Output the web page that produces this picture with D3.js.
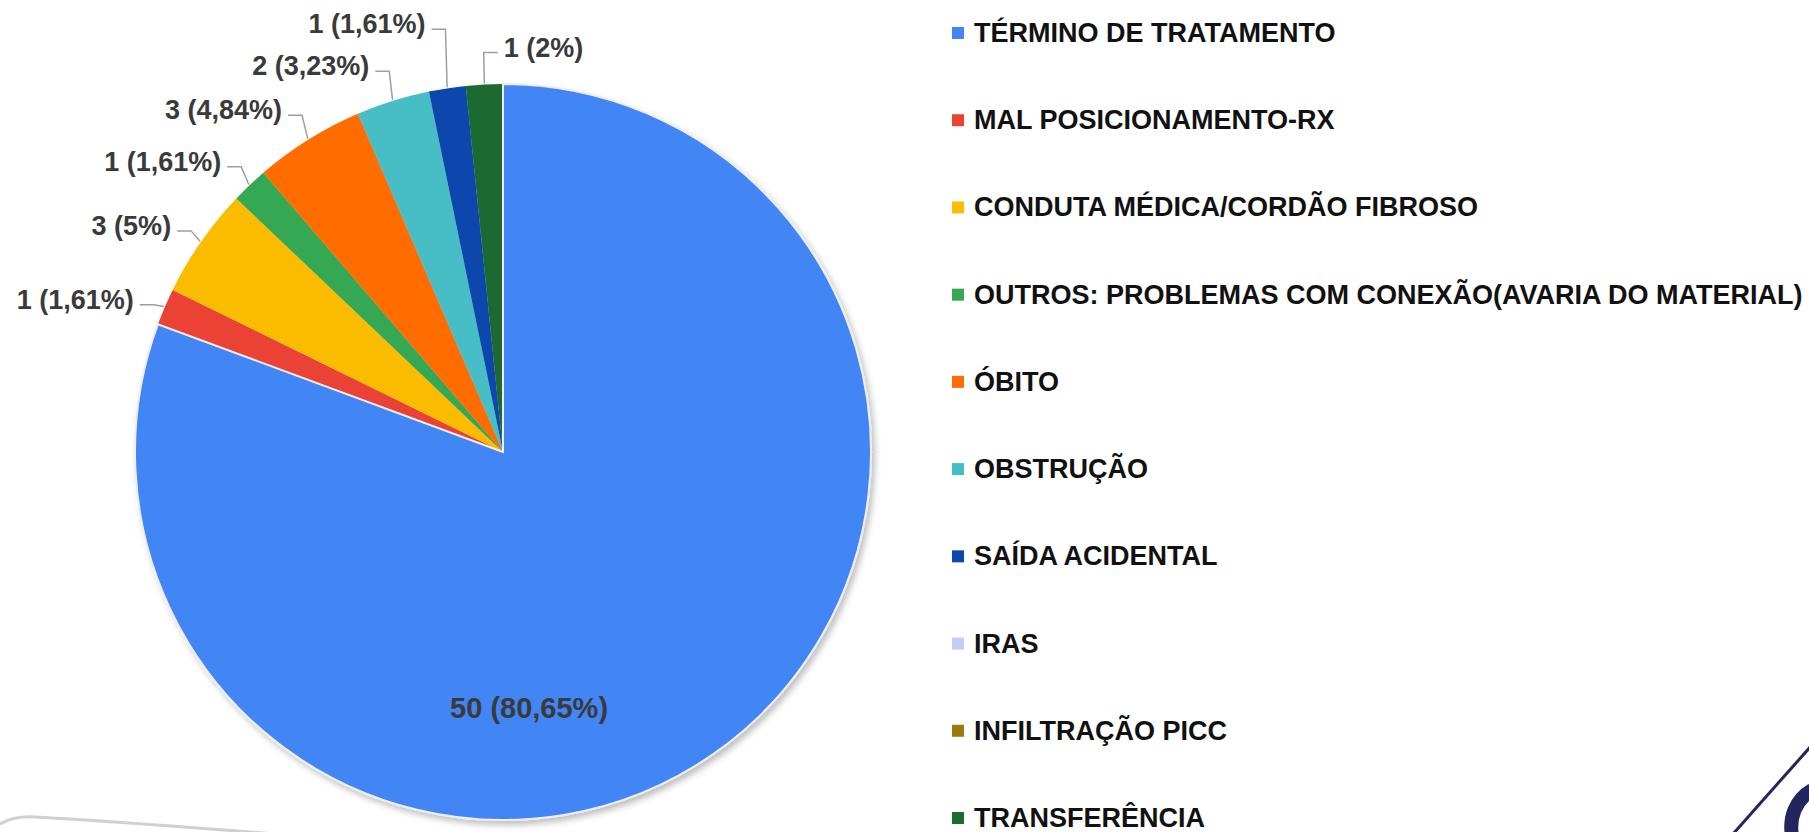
<!DOCTYPE html>
<html>
<head>
<meta charset="utf-8">
<script src="https://cdn.jsdelivr.net/npm/d3@7"></script>
<style>
  html, body { margin: 0; padding: 0; background: #fff; }
  svg { display: block; font-family: "Liberation Sans", Arial, sans-serif; }
</style>
</head>
<body>
<div id="chart"></div>
<script>
// data
var categories = [
  "TÉRMINO DE TRATAMENTO",
  "MAL POSICIONAMENTO-RX",
  "CONDUTA MÉDICA/CORDÃO FIBROSO",
  "OUTROS: PROBLEMAS COM CONEXÃO(AVARIA DO MATERIAL)",
  "ÓBITO",
  "OBSTRUÇÃO",
  "SAÍDA ACIDENTAL",
  "IRAS",
  "INFILTRAÇÃO PICC",
  "TRANSFERÊNCIA"
];
var counts = [50, 1, 3, 1, 3, 2, 1, 0, 0, 1];
var sliceLabels = [
  "50 (80,65%)", "1 (1,61%)", "3 (5%)", "1 (1,61%)", "3 (4,84%)",
  "2 (3,23%)", "1 (1,61%)", "", "", "1 (2%)"
];
var colors = [
  "#4285F4", "#EA4335", "#FBBC04", "#34A853", "#FF6D01",
  "#46BDC6", "#0B47AD", "#C5CAF7", "#9B7A0E", "#1E6B32"
];

var width = 1809, height = 832;
var cx = 503, cy = 452, radius = 368;

var svg = d3.select("#chart").append("svg")
  .attr("width", width)
  .attr("height", height);

// soft shadow under the pie
var defs = svg.append("defs");
var f = defs.append("filter").attr("id", "shadow")
  .attr("x", "-10%").attr("y", "-10%").attr("width", "120%").attr("height", "120%");
f.append("feDropShadow")
  .attr("dx", 3).attr("dy", 4).attr("stdDeviation", 3)
  .attr("flood-color", "#000").attr("flood-opacity", 0.25);

// decorative frame bits of the slide
svg.append("path")
  .attr("d", "M0,824 C10,818 20,816 35,817 C90,820 200,828 300,836")
  .attr("fill", "none").attr("stroke", "#d0d0d0").attr("stroke-width", 3);
svg.append("path")
  .attr("d", "M1812,745 L1733,834")
  .attr("fill", "none").attr("stroke", "#23265e").attr("stroke-width", 3);
svg.append("path")
  .attr("d", "M1792,836 C1789,818 1795,800 1812,790")
  .attr("fill", "none").attr("stroke", "#23265e").attr("stroke-width", 14);

var color = d3.scaleOrdinal().domain(categories).range(colors);

var pie = d3.pie().sort(null).value(function(d) { return d.value; });
var data = categories.map(function(c, i) {
  return { name: c, value: counts[i], label: sliceLabels[i] };
});
var arcs = pie(data);

var arc = d3.arc().innerRadius(0).outerRadius(radius);

var g = svg.append("g").attr("transform", "translate(" + cx + "," + cy + ")");

var slices = g.append("g").attr("filter", "url(#shadow)");
slices.selectAll("path")
  .data(arcs.filter(function(d) { return d.value > 0; }))
  .enter()
  .append("path")
  .attr("d", arc)
  .attr("fill", function(d) { return color(d.data.name); })
  .attr("stroke", function(d, i) { return i === 0 ? "#eeeeee" : "none"; })
  .attr("stroke-width", 2);
// keep the big slice border on top
slices.select("path").raise();

// big slice label inside
var big = arcs[0];
var bigAngle = big.startAngle + (big.endAngle - big.startAngle) * 0.6;
g.append("text")
  .attr("x", Math.sin(bigAngle) * radius * 0.7)
  .attr("y", -Math.cos(bigAngle) * radius * 0.7)
  .attr("text-anchor", "middle")
  .attr("dominant-baseline", "central")
  .attr("font-size", 29)
  .attr("font-weight", "bold")
  .attr("fill", "#3a3a3a")
  .text(big.data.label);

// outside labels with leader lines
var outer = arcs.slice(1).filter(function(d) { return d.value > 0; }).map(function(d) {
  var a = (d.startAngle + d.endAngle) / 2;
  var s = Math.sin(a), c = Math.cos(a);
  // labels near the top rise more above the rim than side ones
  var lift = 32 * Math.max(0, (c - 0.35) / 0.65);
  return {
    d: d,
    side: s < -0.1 ? "left" : "right",
    ax: s * (radius + 1), ay: -c * (radius + 1),
    ex: s * (radius + 12),
    ey: -c * radius - lift
  };
});

// push left labels upward to avoid overlaps
var left = outer.filter(function(o) { return o.side === "left"; })
  .sort(function(a, b) { return b.ey - a.ey; });
for (var i = 1; i < left.length; i++) {
  left[i].ey = Math.min(left[i].ey, left[i - 1].ey - 42);
}

outer.forEach(function(o) {
  var dir = o.side === "left" ? -1 : 1;
  var hx = o.ex + dir * 14;
  g.append("path")
    .attr("d", "M" + o.ax + "," + o.ay + " L" + o.ex + "," + o.ey + " L" + hx + "," + o.ey)
    .attr("fill", "none")
    .attr("stroke", "#9e9e9e")
    .attr("stroke-width", 1.5);
  g.append("text")
    .attr("x", hx + dir * 6)
    .attr("y", o.ey - 5)
    .attr("text-anchor", o.side === "left" ? "end" : "start")
    .attr("dominant-baseline", "central")
    .attr("font-size", 27)
    .attr("font-weight", "bold")
    .attr("fill", "#3a3a3a")
    .text(o.d.data.label);
});

// legend
var ly = d3.scalePoint().domain(categories).range([33, 818]);
var legend = svg.append("g").attr("transform", "translate(952,0)");
var items = legend.selectAll("g")
  .data(categories)
  .enter()
  .append("g")
  .attr("transform", function(d) { return "translate(0," + ly(d) + ")"; });
items.append("rect")
  .attr("x", 0).attr("y", -6)
  .attr("width", 12).attr("height", 12)
  .attr("fill", function(d) { return color(d); });
items.append("text")
  .attr("x", 22)
  .attr("y", 0)
  .attr("dominant-baseline", "central")
  .attr("font-size", 27)
  .attr("font-weight", "bold")
  .attr("fill", "#111")
  .text(function(d) { return d; });
</script>
</body>
</html>
